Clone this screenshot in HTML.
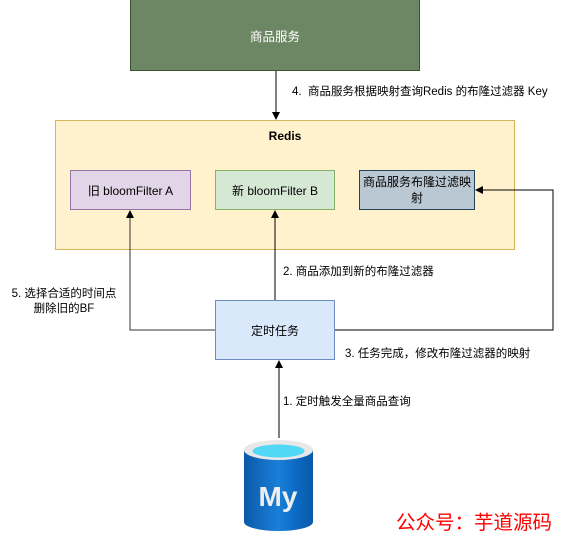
<!DOCTYPE html>
<html><head><meta charset="utf-8"><style>
body{margin:0;width:565px;height:535px;background:#fff;position:relative;overflow:hidden;font-family:"Liberation Sans","Noto Sans CJK SC",sans-serif;font-size:12px;color:#000}
.b{position:absolute;box-sizing:border-box;display:flex;align-items:center;justify-content:center;text-align:center}
.t{position:absolute;white-space:nowrap;font-size:11.5px}
</style></head><body>
<div class="b" style="left:130px;top:-1px;width:290px;height:72px;background:#6d8764;border:1px solid #3a5431;color:#fff;font-size:12.5px">商品服务</div>
<div class="b" style="left:55px;top:120px;width:460px;height:130px;background:#fff2cc;border:1px solid #d6b656;align-items:flex-start;padding-top:8px;font-weight:bold">Redis</div>
<div class="b" style="left:70px;top:170px;width:121px;height:40px;background:#e1d5e7;border:1px solid #9673a6">旧 bloomFilter A</div>
<div class="b" style="left:215px;top:170px;width:120px;height:40px;background:#d5e8d4;border:1px solid #82b366">新 bloomFilter B</div>
<div class="b" style="left:359px;top:170px;width:116px;height:40px;background:#bac8d3;border:1px solid #23445d;line-height:16px">商品服务布隆过滤映<br>射</div>
<div class="b" style="left:215px;top:300px;width:120px;height:60px;background:#dae8fc;border:1px solid #6c8ebf">定时任务</div>
<svg style="position:absolute;left:0;top:0" width="565" height="535">
<g stroke="#000" fill="none" stroke-width="1">
<path d="M276 71V113"/><path d="M275 300V217"/><path d="M215 330H130V217" stroke="#333"/>
<path d="M335 330H553V190H482"/><path d="M279 438V367"/>
</g>
<g fill="#000">
<path d="M276 120l-4-8h8z"/><path d="M275 210l-4 8h8z"/><path d="M130 210l-4 8h8z"/>
<path d="M475 190l8-4v8z"/><path d="M279 360l-4 8h8z"/>
</g>
<defs><linearGradient id="g" x1="0" x2="1"><stop offset="0" stop-color="#0a5aa8"/><stop offset=".5" stop-color="#1a7fd8"/><stop offset=".75" stop-color="#0b6ac4"/><stop offset="1" stop-color="#0a5aa8"/></linearGradient></defs>
<path d="M244 450V522a34.5 9 0 0 0 69 0V450z" fill="url(#g)"/>
<ellipse cx="278.5" cy="450" rx="34.5" ry="10" fill="#e8e8e8"/>
<ellipse cx="278.5" cy="451" rx="26" ry="6.5" fill="#50d8f5"/>
<text x="278" y="506" text-anchor="middle" fill="#eee" font-family="Liberation Sans" font-weight="bold" font-size="28">My</text>
</svg>
<div class="t" style="left:292px;top:83px">4.&nbsp; 商品服务根据映射查询Redis 的布隆过滤器 Key</div>
<div class="t" style="left:283px;top:263px">2. 商品添加到新的布隆过滤器</div>
<div class="t" style="left:8px;top:287px;width:112px;text-align:center;line-height:15px">5. 选择合适的时间点<br>删除旧的BF</div>
<div class="t" style="left:345px;top:345px">3. 任务完成，修改布隆过滤器的映射</div>
<div class="t" style="left:283px;top:393px">1. 定时触发全量商品查询</div>
<div class="t" style="left:396px;top:506px;color:#f00;font-size:19.5px">公众号：芋道源码</div>
</body></html>
